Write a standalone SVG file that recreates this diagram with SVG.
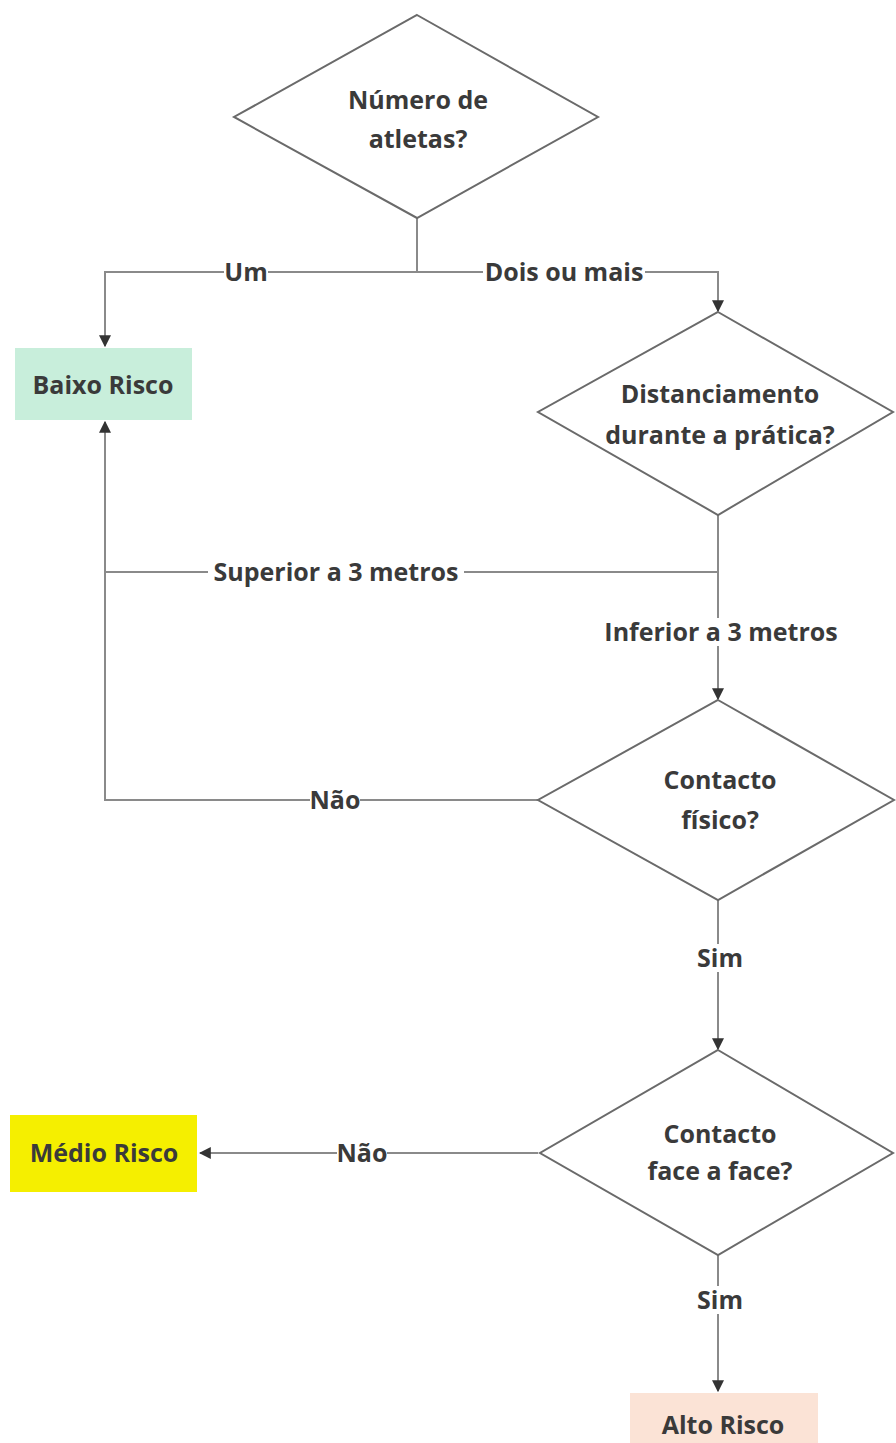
<svg xmlns="http://www.w3.org/2000/svg" width="896" height="1443" viewBox="0 0 896 1443">
<defs>
<marker id="arr" viewBox="0 0 10 10" refX="9" refY="5" markerWidth="6" markerHeight="6" markerUnits="strokeWidth" orient="auto">
<path d="M0,0 L10,5 L0,10 Z" fill="#333"/>
</marker>
<style>
text{font-family:"Open Sans","Liberation Sans",sans-serif;font-weight:700;font-size:25px;fill:#3a3a3a;text-anchor:middle}
.dia{fill:#fff;stroke:#6a6a6a;stroke-width:2}
.con{fill:none;stroke:#8a8a8a;stroke-width:2}
.bg{fill:#fff}
</style>
</defs>
<rect width="896" height="1443" fill="#fff"/>
<g id="connectors">
<path class="con" d="M417,218 V272 H105 V346" marker-end="url(#arr)"/>
<path class="con" d="M417,272 H718 V311" marker-end="url(#arr)"/>
<path class="con" d="M718,515 V572 H105 V422" marker-end="url(#arr)"/>
<path class="con" d="M718,572 V699" marker-end="url(#arr)"/>
<path class="con" d="M538,800 H105 V572"/>
<path class="con" d="M718,900 V1049" marker-end="url(#arr)"/>
<path class="con" d="M538,1153 H200" marker-end="url(#arr)"/>
<path class="con" d="M718,1255 V1391" marker-end="url(#arr)"/>
<rect class="bg" x="224" y="258" width="44" height="28"/>
<text x="246" y="281">Um</text>
<rect class="bg" x="483" y="258" width="162" height="28"/>
<text x="564" y="281">Dois ou mais</text>
<rect class="bg" x="208" y="558" width="256" height="28"/>
<text x="336" y="581">Superior a 3 metros</text>
<rect class="bg" x="598" y="618" width="246" height="28"/>
<text x="721" y="641">Inferior a 3 metros</text>
<rect class="bg" x="310" y="786" width="50" height="28"/>
<text x="335" y="809">Não</text>
<rect class="bg" x="695" y="944" width="50" height="28"/>
<text x="720" y="967">Sim</text>
<rect class="bg" x="337" y="1139" width="50" height="28"/>
<text x="362" y="1162">Não</text>
<rect class="bg" x="695" y="1286" width="50" height="28"/>
<text x="720" y="1309">Sim</text>
</g>
<g id="n1">
<polygon class="dia" points="417,15 598,117 417,218 234,117"/>
<text x="418" y="109">Número de</text>
<text x="418" y="148">atletas?</text>
</g>
<g id="n2">
<rect x="15" y="348" width="177" height="72" fill="#c8eedb"/>
<text x="103" y="394">Baixo Risco</text>
</g>
<g id="n3">
<polygon class="dia" points="718,312 893,412 718,515 538,412"/>
<text x="720" y="403">Distanciamento</text>
<text x="720" y="444">durante a prática?</text>
</g>
<g id="n4">
<polygon class="dia" points="718,700 894,800 718,900 538,800"/>
<text x="720" y="789">Contacto</text>
<text x="720" y="829">físico?</text>
</g>
<g id="n5">
<polygon class="dia" points="718,1050 893,1153 718,1255 540,1153"/>
<text x="720" y="1143">Contacto</text>
<text x="720" y="1180">face a face?</text>
</g>
<g id="n6">
<rect x="10" y="1115" width="187" height="77" fill="#f5ef00"/>
<text x="104" y="1162">Médio Risco</text>
</g>
<g id="n7">
<rect x="630" y="1393" width="188" height="60" fill="#fbe3d6"/>
<text x="723" y="1434">Alto Risco</text>
</g>
</svg>
